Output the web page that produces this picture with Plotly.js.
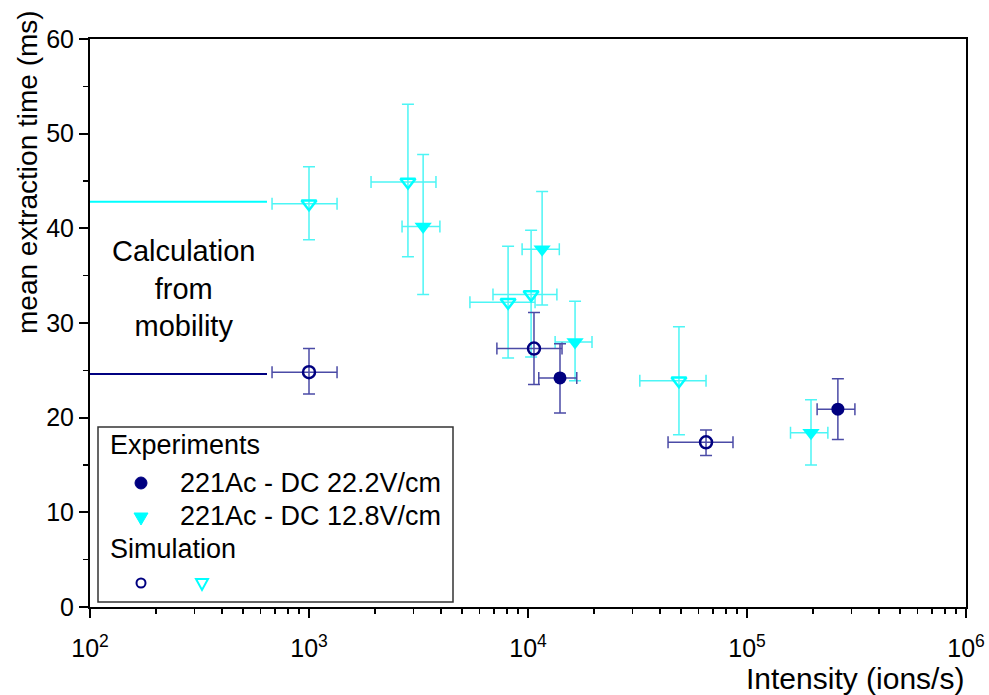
<!DOCTYPE html>
<html>
<head>
<meta charset="utf-8">
<script src="https://cdn.plot.ly/plotly-3.0.1.min.js"></script>
<style>html,body{margin:0;padding:0;background:#fff;}#chart{width:989px;height:695px;}</style>
</head>
<body>
<div id="chart"></div>
<script>
// ---- Data ----
// Experiments, DC 22.2 V/cm (filled navy circles)
var exp222X    = [14000, 260000];
var exp222XLo  = [11200, 209000];
var exp222XHi  = [16700, 311000];
var exp222Y    = [24.2, 20.9];
var exp222YLo  = [20.5, 17.7];
var exp222YHi  = [27.8, 24.1];

// Experiments, DC 12.8 V/cm (filled cyan triangles)
var exp128X    = [3320, 11600, 16400, 196000];
var exp128XLo  = [2660, 9400, 13300, 158000];
var exp128XHi  = [3960, 13900, 19600, 234000];
var exp128Y    = [40.2, 37.8, 28.0, 18.4];
var exp128YLo  = [33.0, 31.9, 23.9, 15.0];
var exp128YHi  = [47.8, 43.9, 32.3, 21.9];

// Simulation, 22.2 V/cm (open navy circles)
var sim222X    = [1000, 10650, 65000];
var sim222XLo  = [678, 7210, 43600];
var sim222XHi  = [1343, 14300, 86300];
var sim222Y    = [24.8, 27.3, 17.4];
var sim222YLo  = [22.5, 23.5, 16.0];
var sim222YHi  = [27.3, 31.1, 18.7];

// Simulation, 12.8 V/cm (open cyan triangles)
var sim128X    = [1000, 2830, 8110, 10330, 48900];
var sim128XLo  = [678, 1920, 5430, 6920, 32400];
var sim128XHi  = [1343, 3800, 10770, 13550, 65000];
var sim128Y    = [42.6, 44.9, 32.2, 33.0, 23.9];
var sim128YLo  = [38.8, 37.0, 26.3, 26.4, 18.2];
var sim128YHi  = [46.5, 53.1, 38.1, 39.8, 29.6];

// Calculation from mobility (horizontal reference lines)
var calcX      = [100, 643];
var calcCyanY  = [42.8, 42.8];
var calcNavyY  = [24.6, 24.6];

// Tick labels
var xTickVals  = [100, 1000, 10000, 100000, 1000000];
var xTickText  = ['10<sup>2</sup>', '10<sup>3</sup>', '10<sup>4</sup>', '10<sup>5</sup>', '10<sup>6</sup>'];

// ---- Styling ----
var NAVY = '#000080';
var CYAN = '#00FFFF';
var NAVY_ERR = '#4B4BA6';
var CYAN_ERR = '#4DF5F5';
var FONT = 'Liberation Sans, Arial, sans-serif';

function diff(a, b) { return a.map(function (v, i) { return v - b[i]; }); }
function errs(x, xlo, xhi, y, ylo, yhi, col) {
  return {
    error_x: {type: 'data', symmetric: false, array: diff(xhi, x), arrayminus: diff(x, xlo), color: col, thickness: 1.5, width: 6},
    error_y: {type: 'data', symmetric: false, array: diff(yhi, y), arrayminus: diff(y, ylo), color: col, thickness: 1.5, width: 6}
  };
}

var traces = [
  {x: calcX, y: calcCyanY, mode: 'lines', line: {color: CYAN, width: 2}, hoverinfo: 'skip'},
  {x: calcX, y: calcNavyY, mode: 'lines', line: {color: NAVY, width: 2}, hoverinfo: 'skip'},
  Object.assign({x: sim128X, y: sim128Y, mode: 'markers', name: 'sim 12.8',
    marker: {symbol: 'triangle-down-open', size: 13, color: CYAN, line: {color: CYAN, width: 2.5}}},
    errs(sim128X, sim128XLo, sim128XHi, sim128Y, sim128YLo, sim128YHi, CYAN_ERR)),
  Object.assign({x: exp128X, y: exp128Y, mode: 'markers', name: 'exp 12.8',
    marker: {symbol: 'triangle-down', size: 15, color: CYAN}},
    errs(exp128X, exp128XLo, exp128XHi, exp128Y, exp128YLo, exp128YHi, CYAN_ERR)),
  Object.assign({x: sim222X, y: sim222Y, mode: 'markers', name: 'sim 22.2',
    marker: {symbol: 'circle-open', size: 12, color: NAVY, line: {color: NAVY, width: 2.5}}},
    errs(sim222X, sim222XLo, sim222XHi, sim222Y, sim222YLo, sim222YHi, NAVY_ERR)),
  Object.assign({x: exp222X, y: exp222Y, mode: 'markers', name: 'exp 22.2',
    marker: {symbol: 'circle', size: 13, color: NAVY}},
    errs(exp222X, exp222XLo, exp222XHi, exp222Y, exp222YLo, exp222YHi, NAVY_ERR))
];

// pixel helpers for legend box placement (paper coords)
var PW = 876, PH = 568;
function px(x) { return (x - 90) / PW; }
function py(y) { return (607 - y) / PH; }

var legendFont = {family: FONT, size: 27, color: '#000'};

var layout = {
  width: 989, height: 695,
  margin: {l: 90, r: 23, t: 39, b: 88},
  paper_bgcolor: '#fff', plot_bgcolor: '#fff',
  showlegend: false,
  font: {family: FONT, color: '#000'},
  xaxis: {
    type: 'log', range: [2, 6],
    tickmode: 'array', tickvals: xTickVals, ticktext: xTickText,
    ticks: 'outside', ticklen: 9, tickwidth: 2, tickcolor: '#000',
    ticklabelstandoff: 9,
    minor: {ticks: 'outside', ticklen: 5, tickwidth: 1.5, tickcolor: '#000', dtick: 'D1', showgrid: false},
    showline: true, linecolor: '#000', linewidth: 2, mirror: true,
    showgrid: false, zeroline: false,
    tickfont: {family: FONT, size: 25, color: '#000'}
  },
  yaxis: {
    range: [0, 60], dtick: 10,
    ticks: 'outside', ticklen: 9, tickwidth: 2, tickcolor: '#000',
    minor: {ticks: 'outside', ticklen: 5, tickwidth: 1.5, tickcolor: '#000', dtick: 5, showgrid: false},
    showline: true, linecolor: '#000', linewidth: 2, mirror: true,
    showgrid: false, zeroline: false,
    tickfont: {family: FONT, size: 25, color: '#000'}
  },
  annotations: [
    {text: 'mean extraction time (ms)', xref: 'paper', yref: 'paper', x: 0, y: py(172), xshift: -62,
     textangle: -90, showarrow: false, font: {family: FONT, size: 28, color: '#000'}, xanchor: 'center', yanchor: 'middle'},
    {text: 'Intensity (ions/s)', xref: 'paper', yref: 'paper', x: 1, y: 0, yshift: -71,
     showarrow: false, font: {family: FONT, size: 30, color: '#000'}, xanchor: 'right', yanchor: 'middle'},
    {text: 'Calculation<br>from<br>mobility', xref: 'paper', yref: 'paper', x: px(183), y: py(288),
     showarrow: false, align: 'center', font: {family: FONT, size: 29, color: '#000'}, xanchor: 'center', yanchor: 'middle'},
    {text: 'Experiments', xref: 'paper', yref: 'paper', x: px(108), y: py(445), showarrow: false,
     xanchor: 'left', yanchor: 'middle', font: legendFont},
    {text: '221Ac - DC 22.2V/cm', xref: 'paper', yref: 'paper', x: px(178), y: py(483), showarrow: false,
     xanchor: 'left', yanchor: 'middle', font: legendFont},
    {text: '221Ac - DC 12.8V/cm', xref: 'paper', yref: 'paper', x: px(178), y: py(516), showarrow: false,
     xanchor: 'left', yanchor: 'middle', font: legendFont},
    {text: 'Simulation', xref: 'paper', yref: 'paper', x: px(108), y: py(549), showarrow: false,
     xanchor: 'left', yanchor: 'middle', font: legendFont}
  ],
  shapes: [
    // legend frame
    {type: 'rect', xref: 'paper', yref: 'paper', x0: px(98), x1: px(453), y0: py(602), y1: py(427),
     line: {color: '#333', width: 1.5}, fillcolor: 'rgba(0,0,0,0)'},
    // legend markers
    {type: 'circle', xref: 'paper', yref: 'paper', xsizemode: 'pixel', ysizemode: 'pixel',
     xanchor: px(141), yanchor: py(483), x0: -6, x1: 6, y0: -6, y1: 6, fillcolor: NAVY, line: {color: NAVY, width: 1}},
    {type: 'path', xref: 'paper', yref: 'paper', xsizemode: 'pixel', ysizemode: 'pixel',
     xanchor: px(141), yanchor: py(518), path: 'M -7 5 L 7 5 L 0 -7 Z', fillcolor: CYAN, line: {color: CYAN, width: 1}},
    {type: 'circle', xref: 'paper', yref: 'paper', xsizemode: 'pixel', ysizemode: 'pixel',
     xanchor: px(141), yanchor: py(583), x0: -4.5, x1: 4.5, y0: -4.5, y1: 4.5, fillcolor: 'rgba(0,0,0,0)', line: {color: NAVY, width: 2}},
    {type: 'path', xref: 'paper', yref: 'paper', xsizemode: 'pixel', ysizemode: 'pixel',
     xanchor: px(202), yanchor: py(584), path: 'M -6 5 L 6 5 L 0 -6 Z', fillcolor: 'rgba(0,0,0,0)', line: {color: CYAN, width: 2}}
  ]
};

Plotly.newPlot('chart', traces, layout, {staticPlot: true, displayModeBar: false});
</script>
</body>
</html>
